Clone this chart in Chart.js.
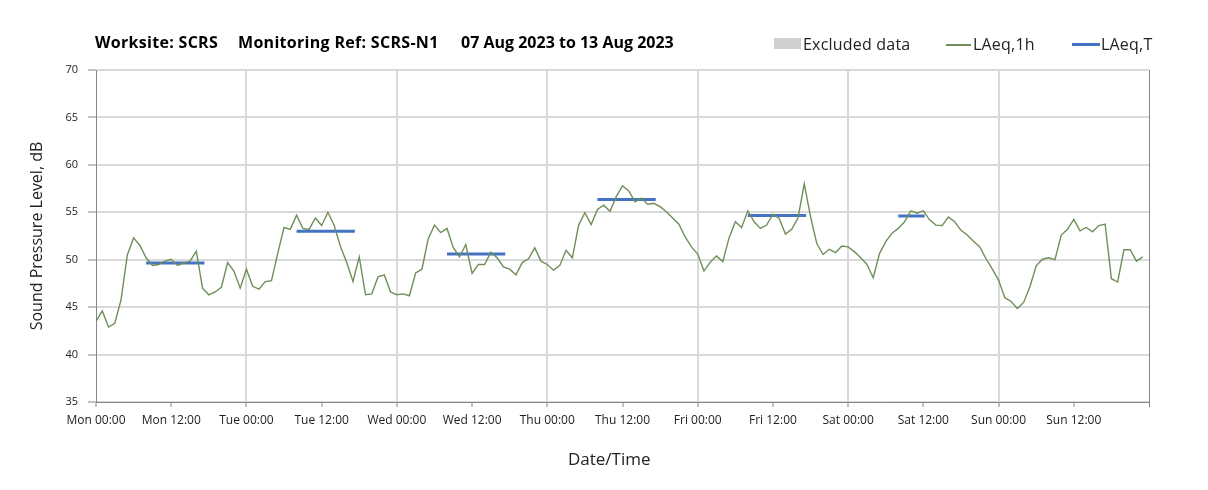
<!DOCTYPE html>
<html><head><meta charset="utf-8">
<script src="https://cdn.jsdelivr.net/npm/chart.js@4.4.1/dist/chart.umd.min.js"></script>
<style>
html,body{margin:0;padding:0;background:#fff;}
#wrap{position:relative;width:1208px;height:490px;overflow:hidden;}
canvas{position:absolute;left:0;top:0;}
.t{position:absolute;font-family:'Open Sans',sans-serif;font-weight:700;font-size:16px;letter-spacing:0.3px;color:#000;top:32px;line-height:20px;white-space:nowrap;}
.lg{position:absolute;font-family:'Open Sans',sans-serif;font-size:16px;letter-spacing:0.2px;color:#222;top:34px;line-height:20px;white-space:nowrap;}
.sw{position:absolute;}
</style></head>
<body><div id="wrap"><canvas id="c" width="1208" height="490"></canvas>
<div class="t" style="left:95px">Worksite: SCRS</div>
<div class="t" style="left:238px">Monitoring Ref: SCRS-N1</div>
<div class="t" style="left:461px;letter-spacing:0">07 Aug 2023 to 13 Aug 2023</div>
<div class="sw" style="left:774px;top:38px;width:27px;height:11px;background:#d0d0d0"></div>
<div class="lg" style="left:803px">Excluded data</div>
<div class="sw" style="left:946px;top:44px;width:25px;height:1.5px;background:#6f8f5a"></div>
<div class="lg" style="left:973px">LAeq,1h</div>
<div class="sw" style="left:1072px;top:43px;width:28px;height:3px;background:#4472c4"></div>
<div class="lg" style="left:1101px">LAeq,T</div>
</div>
<script>
// Hourly LAeq,1h values, Mon 07 Aug 2023 00:00 onward (hour index)
const laeq1h = [
 43.5,44.6,42.9,43.3,45.8,50.5,52.3,51.5,50.2,49.4,49.5,49.85,50.05,49.4,49.65,49.85,50.9,47.0,46.3,46.6,47.1,49.7,48.8,47.0,
 49.0,47.2,46.9,47.7,47.8,50.7,53.4,53.2,54.7,53.3,53.2,54.4,53.6,55.0,53.6,51.4,49.7,47.7,50.3,46.3,46.4,48.2,48.4,46.6,
 46.3,46.4,46.2,48.6,49.0,52.2,53.65,52.85,53.3,51.3,50.3,51.6,48.55,49.5,49.5,50.8,50.2,49.25,49.0,48.4,49.7,50.1,51.25,49.85,
 49.5,48.9,49.4,51.0,50.2,53.65,54.95,53.7,55.3,55.75,55.1,56.65,57.8,57.25,56.1,56.5,55.85,55.95,55.6,55.05,54.4,53.75,52.4,51.35,
 50.6,48.8,49.75,50.4,49.8,52.3,54.0,53.4,55.15,54.0,53.3,53.65,54.8,54.35,52.7,53.2,54.4,58.0,54.55,51.7,50.55,51.1,50.75,51.45,
 51.35,50.85,50.2,49.5,48.1,50.65,51.9,52.8,53.3,54.0,55.15,54.9,55.15,54.2,53.65,53.6,54.5,54.0,53.1,52.6,51.95,51.35,50.1,49.0,
 47.85,46.0,45.6,44.85,45.5,47.15,49.35,50.05,50.2,50.0,52.6,53.2,54.25,53.05,53.4,52.95,53.6,53.75,48.0,47.65,51.05,51.05,49.85,50.3
];
// LAeq,T periods (hours from Mon 00:00)
const periodStartH = [8, 32, 56, 80, 104, 128];
const periodEndH   = [17.3, 41.3, 65.3, 89.3, 113.3, 132.2];
const periodLAeqT  = [49.65, 53.0, 50.6, 56.35, 54.65, 54.6];
// X tick labels every 12 h
const xTickLabels = ['Mon 00:00','Mon 12:00','Tue 00:00','Tue 12:00','Wed 00:00','Wed 12:00','Thu 00:00','Thu 12:00',
  'Fri 00:00','Fri 12:00','Sat 00:00','Sat 12:00','Sun 00:00','Sun 12:00',''];
const yTicks = [35,40,45,50,55,60,65,70];

const lineData = laeq1h.map((v,i)=>({x:i,y:v}));
const tData = [];
periodStartH.forEach((s,k)=>{
  tData.push({x:s,y:periodLAeqT[k]},{x:periodEndH[k],y:periodLAeqT[k]},{x:periodEndH[k],y:null});
});

const AX = '#868686', GR = '#d9d9d9';
new Chart(document.getElementById('c'),{
  type:'line',
  data:{datasets:[
    {label:'LAeq,1h',data:lineData,borderColor:'#6f8f5a',borderWidth:1.4,pointRadius:0,tension:0},
    {label:'LAeq,T',data:tData,borderColor:'#4472c4',borderWidth:3,pointRadius:0,spanGaps:false,borderCapStyle:'butt'}
  ]},
  options:{
    responsive:false,animation:false,devicePixelRatio:1,
    layout:{padding:{left:0,top:70,right:59,bottom:0}},
    plugins:{legend:{display:false},tooltip:{enabled:false}},
    scales:{
      x:{type:'linear',min:0,max:168,
        afterBuildTicks:s=>{s.ticks=xTickLabels.map((l,i)=>({value:i*12}));},
        afterFit:s=>{s.height=88;},
        ticks:{autoSkip:false,maxRotation:0,padding:6,color:'#222',font:{family:'Open Sans',size:12},
          callback:(v)=>xTickLabels[Math.round(v/12)]},
        grid:{
          color:c=>{const v=c.tick&&c.tick.value; if(v===168) return AX; return (v%24===0&&v!==0)?GR:'rgba(0,0,0,0)';},
          lineWidth:c=>{const v=c.tick&&c.tick.value; return v===168?1:2;},
          tickColor:AX,tickWidth:1,tickLength:5},
        border:{color:AX,width:1},
        title:{display:true,text:'Date/Time      ',color:'#222',font:{family:'Open Sans',size:17},padding:{top:0,bottom:20}}
      },
      y:{min:35,max:70,
        afterBuildTicks:s=>{s.ticks=yTicks.map(v=>({value:v}));},
        afterFit:s=>{s.width=96;},
        ticks:{padding:10,color:'#222',font:{family:'Open Sans',size:11}},
        grid:{color:GR,lineWidth:2,tickColor:AX,tickWidth:1,tickLength:8},
        border:{color:AX,width:1},
        title:{display:true,text:'Sound Pressure Level, dB',color:'#222',font:{family:'Open Sans',size:16},padding:{top:28,bottom:0}}
      }
    }
  }
});
</script>
</body></html>
